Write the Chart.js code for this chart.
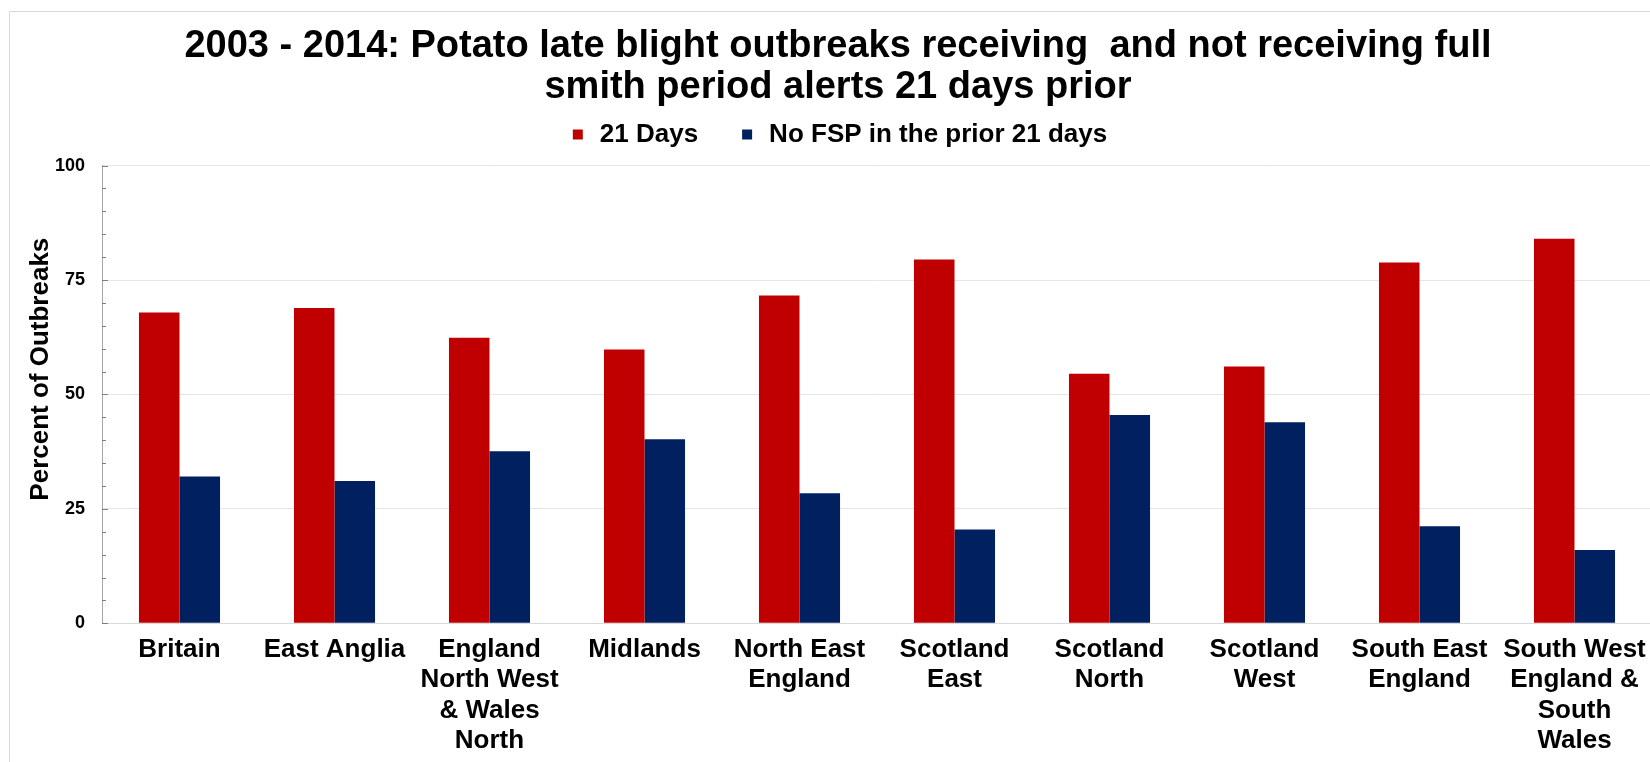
<!DOCTYPE html>
<html>
<head>
<meta charset="utf-8">
<script src="https://cdn.jsdelivr.net/npm/chart.js@4.4.1/dist/chart.umd.min.js"></script>
<style>
    html, body { margin: 0; padding: 0; background: #fff; overflow: hidden; }
    #wrap {
        position: absolute; left: 9px; top: 11px;
        width: 1656px; height: 790px;
        border: 1px solid #d9d9d9;
    }
</style>
</head>
<body>
<div id="wrap"><canvas id="barchart"></canvas></div>
<script>
// Chart data
const regions = [
    'Britain', 'East Anglia', ['England', 'North West', '& Wales', 'North'], 'Midlands',
    ['North East', 'England'], ['Scotland', 'East'], ['Scotland', 'North'], ['Scotland', 'West'],
    ['South East', 'England'], ['South West', 'England &', 'South', 'Wales']
];
const days21 = [67.9, 68.9, 62.4, 59.8, 71.6, 79.5, 54.5, 56.1, 78.8, 84.0];
const noFsp = [32.1, 31.1, 37.6, 40.2, 28.4, 20.5, 45.5, 43.9, 21.2, 16.0];
const majorTicks = [0, 25, 50, 75, 100];

const fontFamily = "'Liberation Sans', Arial, sans-serif";

// small tick marks drawn on the inner side of the y axis
const innerTicks = {
    id: 'innerTicks',
    afterDraw(chart) {
        const y = chart.scales.y;
        const c = chart.ctx;
        c.save();
        c.strokeStyle = '#7f7f7f';
        c.lineWidth = 1;
        y.ticks.forEach(t => {
            let py = Math.round(y.getPixelForValue(t.value)) + 0.5;
            let len = majorTicks.includes(t.value) ? 6 : 4;
            c.beginPath();
            c.moveTo(y.right, py);
            c.lineTo(y.right + len, py);
            c.stroke();
        });
        c.restore();
    }
};

// empty box between the legend and the plot
const legendGap = {
    id: 'legendGap',
    beforeInit(chart) {
        Chart.layouts.addBox(chart, {
            position: 'top', weight: 500, fullSize: true, options: {},
            width: 0, height: 0, top: 0, left: 0, right: 0, bottom: 0,
            isHorizontal() { return true; },
            update(maxWidth) { this.width = maxWidth; this.height = 8; },
            draw() {}
        });
    }
};

let ctx = document.getElementById('barchart').getContext('2d');
let barchart = new Chart(ctx, {
    type: 'bar',
    data: {
        labels: regions,
        datasets: [{
            label: '21 Days',
            data: days21,
            backgroundColor: '#c00000'
        }, {
            label: 'No FSP in the prior 21 days',
            data: noFsp,
            backgroundColor: '#002060'
        }]
    },
    options: {
        responsive: true,
        maintainAspectRatio: false,
        animation: false,
        layout: { padding: { left: 0, right: 0, top: 0, bottom: 43 } },
        datasets: {
            bar: { categoryPercentage: 0.523, barPercentage: 1.0 }
        },
        plugins: {
            tooltip: { enabled: false },
            title: {
                display: true,
                text: ['2003 - 2014: Potato late blight outbreaks receiving  and not receiving full',
                       'smith period alerts 21 days prior'],
                color: '#000',
                font: { family: fontFamily, size: 38, weight: 'bold', lineHeight: 1.08 },
                padding: { top: 13.5, bottom: -26 }
            },
            legend: {
                display: true,
                labels: {
                    color: '#000',
                    usePointStyle: true,
                    pointStyle: 'rect',
                    boxWidth: 18,
                    boxHeight: 10,
                    padding: 40,
                    font: { family: fontFamily, size: 26, weight: 'bold' }
                }
            }
        },
        scales: {
            x: {
                grid: { display: false },
                border: { display: true, color: '#d9d9d9' },
                ticks: {
                    color: '#000',
                    maxRotation: 0,
                    autoSkip: false,
                    padding: 3,
                    font: { family: fontFamily, size: 26, weight: 'bold', lineHeight: 1.17 }
                }
            },
            y: {
                min: 0,
                max: 100,
                afterFit(scale) { scale.width = 92; },
                border: { display: true, color: '#a6a6a6' },
                grid: {
                    drawTicks: false,
                    color: c => majorTicks.includes(c.tick.value) ? '#e6e6e6' : 'rgba(0,0,0,0)'
                },
                ticks: {
                    stepSize: 5,
                    autoSkip: false,
                    padding: 17,
                    color: '#000',
                    font: { family: fontFamily, size: 18, weight: 'bold' },
                    callback: v => majorTicks.includes(v) ? v : ''
                },
                title: {
                    display: true,
                    text: '       Percent of Outbreaks',
                    color: '#000',
                    padding: { top: 15.5, bottom: 0 },
                    font: { family: fontFamily, size: 26, weight: 'bold', lineHeight: 1.2 }
                }
            },
            // keeps room on the right of the plot, draws nothing
            y2: {
                position: 'right',
                display: true,
                grid: { display: false, drawTicks: false },
                border: { display: false },
                ticks: { display: false },
                afterFit(scale) { scale.width = 14; }
            }
        }
    },
    plugins: [innerTicks, legendGap]
});
</script>
</body>
</html>
